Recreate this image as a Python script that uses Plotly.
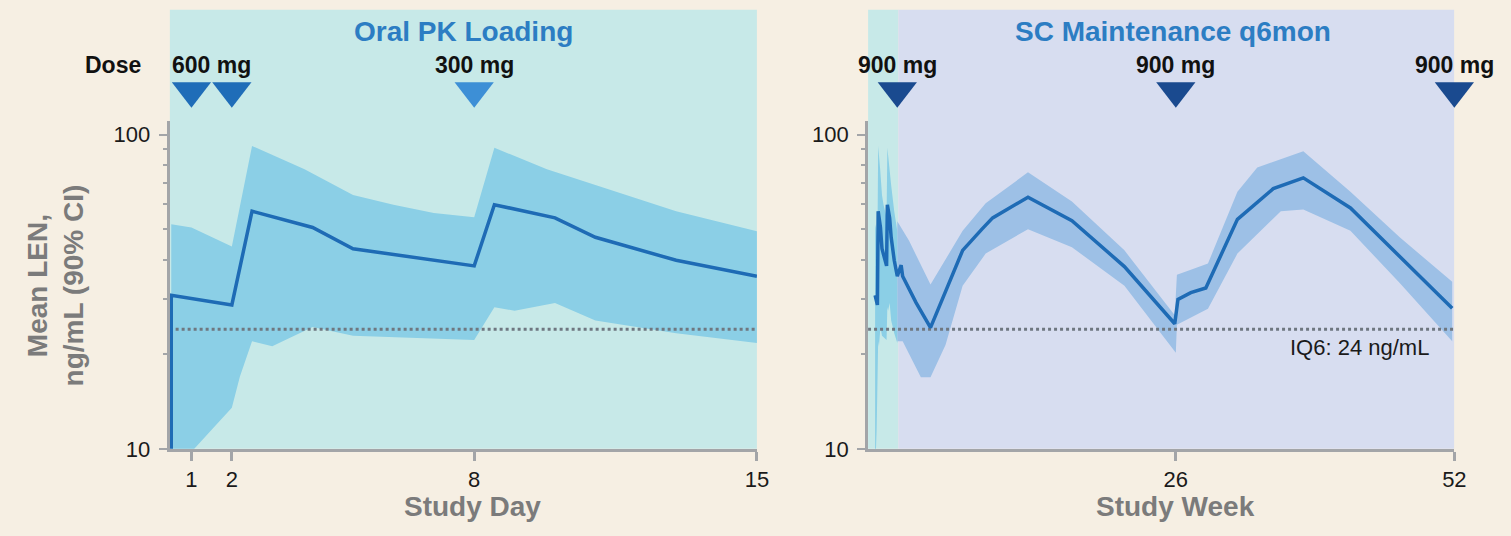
import plotly.graph_objects as go

W, H = 1511, 536

# ---- Oral loading phase (study day) ----
dose_days = [1, 2, 8]
dose_day_labels = ["600 mg", "300 mg"]
dose_day_label_x = [1.5, 8]

mean_day = [0.5, 0.5, 2, 2.5, 4, 5, 8, 8.5, 10, 11, 13, 15]
mean_day_val = [5, 30.8, 28.7, 57, 50.6, 43.3, 38.2, 59.8, 54.3, 47.1, 39.8, 35.4]

upper_day = [0.5, 1, 2, 2.5, 3.8, 5, 6, 7, 8, 8.5, 9.8, 11, 13, 15]
upper_day_val = [51.8, 50.6, 44, 92, 77.6, 64.2, 59.8, 56.3, 54.5, 90.7, 77.6, 69, 57, 49.2]

lower_day = [0.5, 1.07, 1.5, 2, 2.2, 2.5, 3, 4, 5, 8, 8.5, 9, 10, 11, 13, 15]
lower_day_val = [5, 10, 11.5, 13.5, 17, 22, 21.2, 24.4, 22.9, 22.2, 28.2, 27.5, 29.1, 25.6, 23.3, 21.7]

# ---- SC maintenance phase (study week, week 0 = first SC injection) ----
dose_weeks = [0, 26, 52]
dose_week_label = "900 mg"

mean_wk = [0, 0.36, 0.5, 1.75, 3.1, 4.2, 6.1, 7.9, 8.9, 12.2, 16.3, 21.2, 25.9,
           26.2, 27.4, 28.8, 31.75, 35.1, 37.9, 42.3, 46.9, 51.8]
mean_wk_val = [35.4, 38.4, 35.4, 29.2, 24.3, 29.9, 42.8, 50, 54.3, 63.2, 53.2, 38, 25,
               29.9, 31.4, 32.5, 53.7, 67.3, 72.8, 58.4, 40.8, 28]

upper_wk = [0, 1.1, 3.1, 6.1, 8.25, 12.2, 16.3, 21.2, 25.9, 26.1, 27.4, 29,
            31.75, 33.6, 37.9, 42.3, 46.9, 51.8]
upper_wk_val = [53, 45.9, 33.3, 49.4, 60.4, 75.8, 61.2, 42.8, 26.6, 35.8, 37.1, 38.9,
                65.7, 78.6, 88.5, 65.7, 47.1, 34]

lower_wk = [0, 0.5, 2.2, 3.1, 4.5, 6.1, 8.25, 12.2, 16.3, 21.2, 26, 26.1, 29,
            31.75, 35.8, 37.9, 42.3, 46.9, 51.8]
lower_wk_val = [22, 22, 16.9, 16.9, 21.4, 33, 41.8, 50, 43.8, 33, 20.2, 24.8, 27.9,
                41.8, 57, 57.7, 49.4, 33.7, 22]

iq6 = 24  # ng/mL

# ---- styling ----
FONT = "Liberation Sans"
PAGE_BG = "#F6EFE3"
ORAL_BG = "#C7E9E8"
SC_BG = "#D7DDF0"
ORAL_BAND = "#8BCFE6"
SC_BAND = "#9DC0E6"
MEAN_COL = "#1E6BB5"
TITLE_COL = "#2C7DC3"
AXIS_COL = "#A3A5A8"
AXTITLE_COL = "#7B7B7B"
DOT_COL = "#6F7780"

X1_RANGE = [0.46, 15]
X2_RANGE = [-2.73, 52]
Y_RANGE = [1, 2.043]
YDOM = [1 - 460 / H, 1 - 124 / H]
HEAD_DOM = [1 - 124 / H, 1.0]   # header strip above the plot area, holds the dose markers
DOSE_Y = 0.25                   # marker height inside the header strip (0 = plot top)


def to_week(days):
    return [(d - 15) / 7 for d in days]


def band(xu, yu, xl, yl):
    return xu + xl[::-1], yu + yl[::-1]


fig = go.Figure()

# confidence bands
bx, by = band(upper_day, upper_day_val, lower_day, lower_day_val)
fig.add_trace(go.Scatter(x=bx, y=by, fill="toself", fillcolor=ORAL_BAND, mode="lines",
                         line=dict(width=0), xaxis="x", yaxis="y", hoverinfo="skip"))
bx2, by2 = band(to_week(upper_day), upper_day_val, to_week(lower_day), lower_day_val)
fig.add_trace(go.Scatter(x=bx2, y=by2, fill="toself", fillcolor=ORAL_BAND, mode="lines",
                         line=dict(width=0), xaxis="x2", yaxis="y2", hoverinfo="skip"))
bx3, by3 = band(upper_wk, upper_wk_val, lower_wk, lower_wk_val)
fig.add_trace(go.Scatter(x=bx3, y=by3, fill="toself", fillcolor=SC_BAND, mode="lines",
                         line=dict(width=0), xaxis="x2", yaxis="y2", hoverinfo="skip"))

# IQ6 reference lines
fig.add_trace(go.Scatter(x=X1_RANGE, y=[iq6, iq6], mode="lines",
                         line=dict(color=DOT_COL, width=3, dash="dot"), xaxis="x", yaxis="y"))
fig.add_trace(go.Scatter(x=X2_RANGE, y=[iq6, iq6], mode="lines",
                         line=dict(color=DOT_COL, width=3, dash="dot"), xaxis="x2", yaxis="y2"))

# mean concentration lines
fig.add_trace(go.Scatter(x=mean_day, y=mean_day_val, mode="lines",
                         line=dict(color=MEAN_COL, width=3.5), xaxis="x", yaxis="y"))
fig.add_trace(go.Scatter(x=to_week(mean_day[1:]) + mean_wk, y=mean_day_val[1:] + mean_wk_val,
                         mode="lines", line=dict(color=MEAN_COL, width=3.5),
                         xaxis="x2", yaxis="y2"))

# dose markers (header strip axes y3 / y4)
fig.add_trace(go.Scatter(x=dose_days, y=[DOSE_Y] * len(dose_days), mode="markers",
                         marker=dict(symbol="triangle-down", size=34,
                                     color=["#1F6DB8", "#1F6DB8", "#3D8FD6"], line=dict(width=0)),
                         cliponaxis=False, xaxis="x", yaxis="y3"))
fig.add_trace(go.Scatter(x=dose_weeks, y=[DOSE_Y] * len(dose_weeks), mode="markers",
                         marker=dict(symbol="triangle-down", size=34, color="#1A4A8F",
                                     line=dict(width=0)),
                         cliponaxis=False, xaxis="x2", yaxis="y4"))

# phase backgrounds
fig.add_shape(type="rect", xref="x", yref="paper", x0=X1_RANGE[0], x1=X1_RANGE[1],
              y0=YDOM[0], y1=1 - 10 / H, fillcolor=ORAL_BG, line_width=0, layer="below")
fig.add_shape(type="rect", xref="x2", yref="paper", x0=X2_RANGE[0], x1=0.1,
              y0=YDOM[0], y1=1 - 10 / H, fillcolor=ORAL_BG, line_width=0, layer="below")
fig.add_shape(type="rect", xref="x2", yref="paper", x0=0.1, x1=X2_RANGE[1],
              y0=YDOM[0], y1=1 - 10 / H, fillcolor=SC_BG, line_width=0, layer="below")


def label(text, x, y, xref="paper", yref="paper", **kw):
    return dict(text=text, x=x, y=y, xref=xref, yref=yref, showarrow=False,
                xanchor=kw.pop("xanchor", "center"), yanchor="middle", **kw)


ann = []
title_font = dict(family=FONT, size=28, color=TITLE_COL)
ann.append(label("<b>Oral PK Loading</b>", 467 / W, 1 - 32 / H, font=title_font))
ann.append(label("<b>SC Maintenance q6mon</b>", 1182 / W, 1 - 32 / H, font=title_font))

dose_font = dict(family=FONT, size=23, color="#111111")
ann.append(label("<b>Dose</b>", 114 / W, 1 - 67 / H, font=dose_font))
for lbl, xv in zip(dose_day_labels, dose_day_label_x):
    ann.append(label(f"<b>{lbl}</b>", xv, 1 - 67 / H, xref="x", font=dose_font))
for wv in dose_weeks:
    ann.append(label(f"<b>{dose_week_label}</b>", wv, 1 - 67 / H, xref="x2", font=dose_font))

axt_font = dict(family=FONT, size=28, color=AXTITLE_COL)
ann.append(label("<b>Study Day</b>", 476 / W, 1 - 519 / H, font=axt_font))
ann.append(label("<b>Study Week</b>", 26, 1 - 519 / H, xref="x2", font=axt_font))
ann.append(label("<b>Mean LEN,<br>ng/mL (90% CI)</b>", 56 / W, 1 - 293 / H,
                 textangle=-90, font=axt_font))
ann.append(label(f"IQ6: {iq6} ng/mL", 1442 / W, 1 - 356 / H, xanchor="right",
                 font=dict(family=FONT, size=22, color="#1a1a1a")))

tick_font = dict(family=FONT, size=22, color="#1a1a1a")
xcommon = dict(showline=True, linecolor=AXIS_COL, linewidth=3, ticks="outside", ticklen=9,
               tickwidth=3, tickcolor=AXIS_COL, showgrid=False, zeroline=False,
               tickfont=tick_font)
ycommon = dict(type="log", range=Y_RANGE, domain=YDOM, showline=True, linecolor=AXIS_COL,
               linewidth=3, ticks="outside", ticklen=8, tickwidth=2, tickcolor=AXIS_COL,
               tickvals=[10, 100], ticktext=["10", "100"], showgrid=False, zeroline=False,
               tickfont=tick_font, ticklabelstandoff=4,
               minor=dict(ticks="outside", ticklen=4, tickwidth=2, tickcolor=AXIS_COL,
                          tickmode="array", tickvals=[20, 30, 40, 50, 60, 70, 80, 90]))
headcommon = dict(domain=HEAD_DOM, range=[0, 1], visible=False, fixedrange=True)

fig.update_layout(
    width=W, height=H, autosize=False,
    margin=dict(l=0, r=0, t=0, b=0),
    paper_bgcolor=PAGE_BG, plot_bgcolor="rgba(0,0,0,0)",
    showlegend=False,
    font=dict(family=FONT),
    xaxis=dict(xcommon, domain=[171 / W, 763 / W], range=X1_RANGE,
               tickvals=dose_days + [15], anchor="y"),
    xaxis2=dict(xcommon, domain=[875 / W, 1466 / W], range=X2_RANGE,
                tickvals=[26, 52], anchor="y2"),
    yaxis=dict(ycommon, anchor="x"),
    yaxis2=dict(ycommon, anchor="x2"),
    yaxis3=dict(headcommon, anchor="x"),
    yaxis4=dict(headcommon, anchor="x2"),
    annotations=ann,
)

fig.write_html("out.html")
